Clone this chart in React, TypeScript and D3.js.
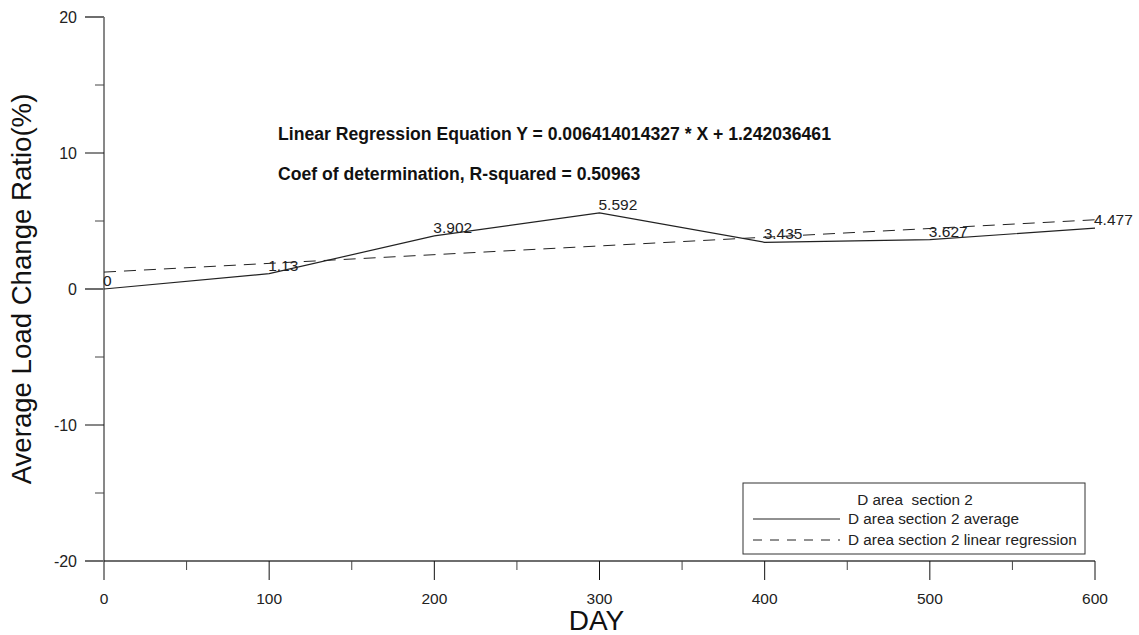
import React, { useEffect, useRef } from 'react';
import * as d3 from 'd3';

// data
const days = [0, 100, 200, 300, 400, 500, 600];
const averages = [0, 1.13, 3.902, 5.592, 3.435, 3.627, 4.477];
const slope = 0.006414014327;
const intercept = 1.242036461;
const rSquared = '0.50963';
const xTicks = [0, 100, 200, 300, 400, 500, 600];
const xMinorTicks = [50, 150, 250, 350, 450, 550];
const yTicks = [-20, -10, 0, 10, 20];
const yMinorTicks = [-15, -5, 5, 15];
const legendTitle = 'D area  section 2';
const seriesNames = ['D area section 2 average', 'D area section 2 linear regression'];

const App = () => {
    const svgRef = useRef<SVGSVGElement>(null);
    const width = 1139;
    const height = 635;
    const margin = { top: 17, right: 44, bottom: 74, left: 104 };
    const font = 'Arial, "Liberation Sans", sans-serif';

    useEffect(() => {
        const svg = d3.select(svgRef.current)
            .attr('width', width)
            .attr('height', height)
            .style('background', '#fff');

        svg.selectAll('*').remove();

        const x = d3.scaleLinear()
            .domain([0, 600])
            .range([margin.left, width - margin.right]);

        const y = d3.scaleLinear()
            .domain([-20, 20])
            .range([height - margin.bottom, margin.top]);

        const y0 = y(-20);

        // x axis
        const gx = svg.append('g');
        gx.append('line')
            .attr('x1', x(0) - 19).attr('x2', x(600))
            .attr('y1', y0).attr('y2', y0)
            .attr('stroke', '#6e6e6e').attr('stroke-width', 2);
        gx.selectAll('.xt').data(xTicks).enter().append('line')
            .attr('x1', d => x(d)).attr('x2', d => x(d))
            .attr('y1', y0).attr('y2', y0 + 19)
            .attr('stroke', '#111');
        gx.selectAll('.xm').data(xMinorTicks).enter().append('line')
            .attr('x1', d => x(d)).attr('x2', d => x(d))
            .attr('y1', y0).attr('y2', y0 + 9)
            .attr('stroke', '#444');
        gx.selectAll('.xl').data(xTicks).enter().append('text')
            .attr('x', d => x(d)).attr('y', y0 + 43)
            .attr('text-anchor', 'middle')
            .attr('font-family', font).attr('font-size', 15.5).attr('fill', '#222')
            .text(d => d);

        // y axis
        const gy = svg.append('g');
        gy.append('line')
            .attr('x1', x(0)).attr('x2', x(0))
            .attr('y1', y(20)).attr('y2', y0)
            .attr('stroke', '#111');
        gy.selectAll('.yt').data(yTicks).enter().append('line')
            .attr('x1', x(0) - 19).attr('x2', x(0))
            .attr('y1', d => y(d)).attr('y2', d => y(d))
            .attr('stroke', d => (Math.abs(d) === 20 || d === 0 ? '#6e6e6e' : '#111'))
            .attr('stroke-width', d => (Math.abs(d) === 20 || d === 0 ? 2 : 1));
        gy.selectAll('.ym').data(yMinorTicks).enter().append('line')
            .attr('x1', x(0) - 9).attr('x2', x(0))
            .attr('y1', d => y(d)).attr('y2', d => y(d))
            .attr('stroke', '#444');
        gy.selectAll('.yl').data(yTicks).enter().append('text')
            .attr('x', x(0) - 27).attr('y', d => y(d) + 6)
            .attr('text-anchor', 'end')
            .attr('font-family', font).attr('font-size', 16).attr('fill', '#222')
            .text(d => d);

        // axis titles
        svg.append('text')
            .attr('x', x(300) - 3).attr('y', 630)
            .attr('text-anchor', 'middle')
            .attr('font-family', font).attr('font-size', 28).attr('fill', '#111')
            .text('DAY');
        svg.append('text')
            .attr('transform', `translate(31,${y(0)}) rotate(-90)`)
            .attr('text-anchor', 'middle')
            .attr('font-family', font).attr('font-size', 27.6).attr('fill', '#111')
            .text('Average Load Change Ratio(%)');

        // regression line
        const reg = d3.line<number>()
            .x(d => x(d))
            .y(d => y(slope * d + intercept));
        svg.append('path')
            .datum(d3.extent(days) as number[])
            .attr('fill', 'none')
            .attr('stroke', '#222')
            .attr('stroke-dasharray', '12,8')
            .attr('d', reg);

        // average line
        const pts = days.map((d, i) => ({ day: d, v: averages[i] }));
        svg.append('path')
            .datum(pts)
            .attr('fill', 'none')
            .attr('stroke', '#222')
            .attr('stroke-width', 1.2)
            .attr('d', d3.line<{ day: number; v: number }>()
                .x(d => x(d.day))
                .y(d => y(d.v)));

        svg.selectAll('.pl').data(pts).enter().append('text')
            .attr('x', d => x(d.day) - 1)
            .attr('y', d => y(d.v) - 3)
            .attr('font-family', font).attr('font-size', 15.5).attr('fill', '#222')
            .text(d => d.v);

        // equation text
        svg.append('text')
            .attr('x', 278).attr('y', 140)
            .attr('font-family', font).attr('font-size', 17.6).attr('font-weight', 'bold')
            .attr('fill', '#111')
            .text(`Linear Regression Equation Y = ${slope} * X + ${intercept}`);
        svg.append('text')
            .attr('x', 278).attr('y', 180)
            .attr('font-family', font).attr('font-size', 17.6).attr('font-weight', 'bold')
            .attr('fill', '#111')
            .text(`Coef of determination, R-squared = ${rSquared}`);

        // legend
        const lg = svg.append('g').attr('transform', 'translate(743,483)');
        lg.append('rect')
            .attr('width', 342).attr('height', 71)
            .attr('fill', '#fff').attr('stroke', '#333');
        lg.append('text')
            .attr('x', 172).attr('y', 22)
            .attr('text-anchor', 'middle')
            .attr('font-family', font).attr('font-size', 15.3).attr('fill', '#222')
            .attr('xml:space', 'preserve')
            .style('white-space', 'pre')
            .text(legendTitle);
        seriesNames.forEach((name, i) => {
            const ly = 36 + i * 21;
            lg.append('line')
                .attr('x1', 10).attr('x2', 97)
                .attr('y1', ly).attr('y2', ly)
                .attr('stroke', '#222')
                .attr('stroke-dasharray', i === 1 ? '9,8' : null);
            lg.append('text')
                .attr('x', 105).attr('y', ly + 5)
                .attr('font-family', font).attr('font-size', 15.3).attr('fill', '#222')
                .text(name);
        });
    }, []);

    return (
        <div style={{ position: 'absolute', left: 0, top: 0 }}>
            <svg ref={svgRef} style={{ display: 'block' }}></svg>
        </div>
    );
};

export default App;
